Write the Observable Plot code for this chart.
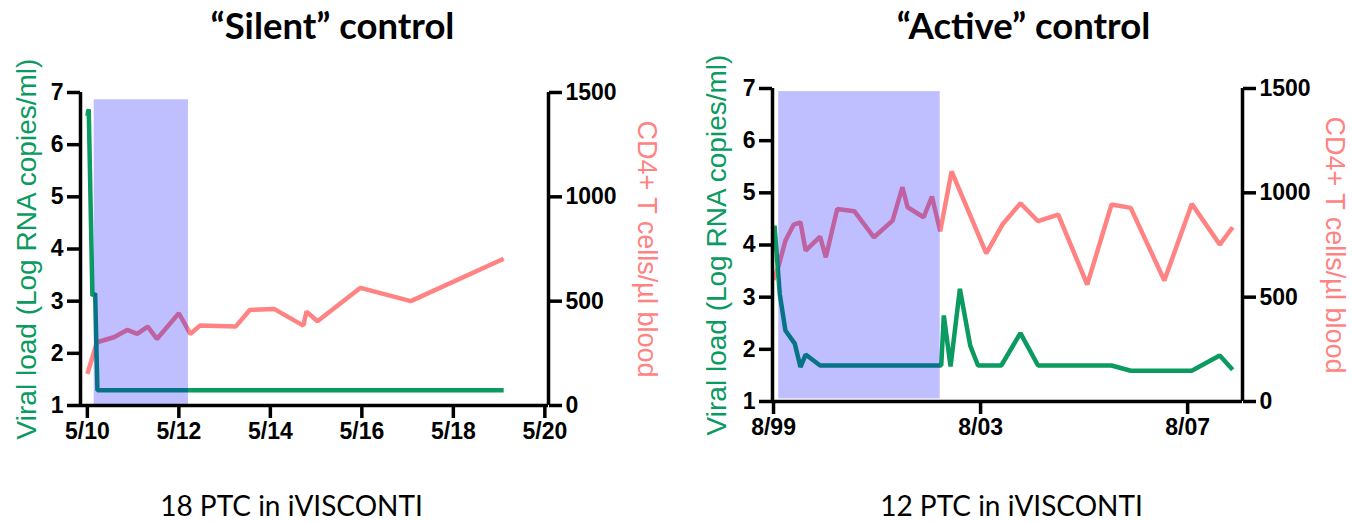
<!DOCTYPE html>
<html>
<head>
<meta charset="utf-8">
<script src="https://cdn.jsdelivr.net/npm/d3@7"></script>
<script src="https://cdn.jsdelivr.net/npm/@observablehq/plot@0.6"></script>
<style>
  html, body { margin: 0; padding: 0; background: #fff; }
  #wrap { display: flex; width: 1353px; height: 523px; overflow: hidden; }
  #wrap svg { display: block; flex: none; }
</style>
</head>
<body>
<div id="wrap"></div>
<script>
// ---------- data ----------
const titles = ["\u201CSilent\u201D control", "\u201CActive\u201D control"];
const captions = ["18 PTC in iVISCONTI", "12 PTC in iVISCONTI"];
const leftAxisLabel = "Viral load (Log RNA copies/ml)";
const rightAxisLabel = "CD4+ T cells/\u00B5l blood";

const vlTicks = [1, 2, 3, 4, 5, 6, 7];
const cd4Ticks = [0, 500, 1000, 1500];
const cd4TickLabels = ["0", "500", "1000", "1500"];

// Silent control: x = days since 5/10
const silentXTicks = [0, 2, 4, 6, 8, 10];
const silentXLabels = ["5/10", "5/12", "5/14", "5/16", "5/18", "5/20"];
const silentVLDay = [0, 0.03, 0.11, 0.17, 0.22, 9.1];
const silentVL = [6.55, 6.68, 3.1, 3.15, 1.29, 1.29];
const silentCD4Day = [0, 0.21, 0.58, 0.87, 1.09, 1.32, 1.52, 2.0, 2.25, 2.46, 3.24, 3.55, 4.08, 4.72, 4.79, 5.03, 5.97, 7.07, 9.1];
const silentCD4 = [152, 303, 327, 362, 343, 378, 319, 442, 343, 383, 378, 458, 463, 383, 450, 404, 564, 500, 703];
const silentShadeX = [0.15, 2.21];
const silentShadeY = [1, 6.86];

// Active control: x = years since 8/99
const activeXTicks = [0, 4, 8];
const activeXLabels = ["8/99", "8/03", "8/07"];
const activeVLYear = [0, 0.02, 0.12, 0.23, 0.41, 0.52, 0.62, 0.9, 3.24, 3.29, 3.42, 3.6, 3.8, 3.95, 4.4, 4.77, 5.11, 6.53, 6.9, 8.08, 8.62, 8.87];
const activeVL = [3.95, 4.37, 3.06, 2.36, 2.11, 1.66, 1.9, 1.69, 1.69, 2.65, 1.67, 3.16, 2.07, 1.69, 1.69, 2.31, 1.69, 1.69, 1.59, 1.59, 1.88, 1.61];
const activeCD4Year = [0, 0.1, 0.23, 0.39, 0.52, 0.62, 0.9, 1.01, 1.23, 1.56, 1.94, 2.3, 2.49, 2.59, 2.9, 3.06, 3.22, 3.44, 4.11, 4.43, 4.77, 5.11, 5.5, 6.06, 6.53, 6.9, 7.55, 8.08, 8.62, 8.87];
const activeCD4 = [583, 651, 771, 848, 859, 723, 790, 691, 923, 912, 787, 867, 1027, 931, 883, 982, 816, 1103, 710, 851, 950, 864, 896, 560, 944, 928, 580, 947, 752, 835];
const activeShadeX = [0.1, 3.22];
const activeShadeY = [1.05, 6.94];

// ---------- styling ----------
const green = "#0b9a5f";
const salmon = "#ff8383";
const shadeColor = "#0000ff";
const black = "#000";

// CD4 (0..1500) drawn on the viral-load y scale (1..7)
const cd4ToVL = v => 1 + v / 250;

function panel(o) {
  const vlData = o.vlX.map((x, i) => ({x, y: o.vl[i]}));
  const cdData = o.cdX.map((x, i) => ({x, y: o.cd[i]}));
  const lineOpts = {strokeWidth: 4.5, strokeLinejoin: "miter", strokeLinecap: "butt"};
  const axisOpts = {tickSize: 13, tickPadding: 4, strokeWidth: 3.5, label: null};
  return Plot.plot({
    width: o.width,
    height: 523,
    marginLeft: o.marginLeft,
    marginRight: o.marginRight,
    marginTop: o.marginTop,
    marginBottom: o.marginBottom,
    style: {fontFamily: "'Liberation Sans', Arial, sans-serif", fontSize: "23px", fontWeight: "bold", color: black, background: "transparent", overflow: "visible"},
    x: {domain: o.xDomain},
    y: {domain: [1, 7]},
    marks: [
      Plot.line(cdData, {x: "x", y: d => cd4ToVL(d.y), stroke: salmon, ...lineOpts}),
      Plot.line(vlData, {x: "x", y: "y", stroke: green, ...lineOpts}),
      Plot.rect([0], {x1: () => o.shadeX[0], x2: () => o.shadeX[1], y1: () => o.shadeY[0], y2: () => o.shadeY[1], fill: shadeColor, fillOpacity: 0.25}),
      Plot.ruleY([1], {stroke: black, strokeWidth: 3.5}),
      Plot.ruleX([o.xDomain[0]], {y1: 1, y2: 7, stroke: black, strokeWidth: 3.5}),
      Plot.ruleX([o.xDomain[1]], {y1: 1, y2: 7, stroke: black, strokeWidth: 3.5}),
      Plot.axisY({anchor: "left", ticks: vlTicks, tickFormat: d => String(d), ...axisOpts}),
      Plot.axisY({anchor: "right", ticks: cd4Ticks.map(cd4ToVL), tickFormat: d => cd4TickLabels[cd4Ticks.indexOf((d - 1) * 250)], ...axisOpts}),
      Plot.axisX({ticks: o.xTicks, tickFormat: d => o.xLabels[o.xTicks.indexOf(d)], ...axisOpts}),
      Plot.text([leftAxisLabel], {frameAnchor: "left", textAnchor: "middle", lineAnchor: "middle", rotate: -90, dx: o.leftLabelDx, fill: green, fontSize: 28, fontWeight: "normal", fontFamily: "'Liberation Sans', Arial, sans-serif"}),
      Plot.text([rightAxisLabel], {frameAnchor: "right", textAnchor: "middle", lineAnchor: "middle", rotate: 90, dx: o.rightLabelDx, fill: salmon, fontSize: 27, fontWeight: "normal", fontFamily: "'Liberation Sans', Arial, sans-serif"}),
      Plot.text([o.title], {frameAnchor: "top", textAnchor: "middle", lineAnchor: "bottom", dx: o.titleDx, dy: o.titleDy, fill: black, fontSize: 36.5, fontWeight: "bold", fontFamily: "Lato, 'Open Sans', sans-serif"}),
      Plot.text([o.caption], {frameAnchor: "bottom", textAnchor: "middle", lineAnchor: "bottom", dx: o.captionDx, dy: o.captionDy, fill: black, fontSize: 28, fontWeight: "normal", fontFamily: "Lato, 'Open Sans', sans-serif"})
    ]
  });
}

const wrap = document.getElementById("wrap");
wrap.append(panel({
  width: 676, marginLeft: 80, marginRight: 128, marginTop: 92, marginBottom: 118,
  xDomain: [-0.15, 10.08], xTicks: silentXTicks, xLabels: silentXLabels,
  vlX: silentVLDay, vl: silentVL, cdX: silentCD4Day, cd: silentCD4,
  shadeX: silentShadeX, shadeY: silentShadeY,
  leftLabelDx: -53, rightLabelDx: 98,
  title: titles[0], titleDx: 18, titleDy: -54,
  caption: captions[0], captionDx: -23, captionDy: 110
}));
wrap.append(panel({
  width: 677, marginLeft: 96, marginRight: 111, marginTop: 88, marginBottom: 122,
  xDomain: [-0.02, 9.06], xTicks: activeXTicks, xLabels: activeXLabels,
  vlX: activeVLYear, vl: activeVL, cdX: activeCD4Year, cd: activeCD4,
  shadeX: activeShadeX, shadeY: activeShadeY,
  leftLabelDx: -55, rightLabelDx: 92,
  title: titles[1], titleDx: 16, titleDy: -50,
  caption: captions[1], captionDx: 4, captionDy: 114
}));
</script>
</body>
</html>
